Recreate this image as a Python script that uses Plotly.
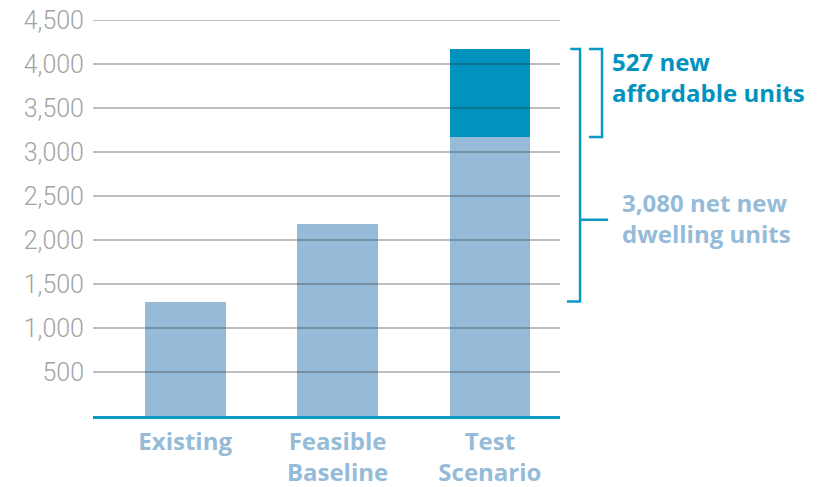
import plotly.graph_objects as go

# Dwelling units by scenario
categories = ["Existing", "Feasible<br>Baseline", "Test<br>Scenario"]
market_units = [1300, 2180, 3170]
affordable_units = [0, 0, 1000]
y_ticks = [500, 1000, 1500, 2000, 2500, 3000, 3500, 4000, 4500]
y_tick_labels = ["500", "1,000", "1,500", "2,000", "2,500", "3,000", "3,500", "4,000", "4,500"]

LIGHT = "#95bbd8"
DARK = "#0093bf"
AXIS = "#0a98c4"
GRID = "rgba(50,50,50,0.42)"
TICK_GRAY = "#a3a3a3"
BOLD_FONT = "Open Sans"

fig = go.Figure()
fig.add_trace(go.Bar(x=categories, y=market_units, marker_color=LIGHT,
                     marker_line_width=0, width=0.53, hoverinfo="skip"))
fig.add_trace(go.Bar(x=categories, y=affordable_units, marker_color=DARK,
                     marker_line_width=0, width=0.53, hoverinfo="skip"))

# grid lines drawn on top of the bars
for v in y_ticks:
    fig.add_shape(type="line", xref="paper", yref="y", x0=0, x1=1, y0=v, y1=v,
                  line=dict(color=GRID, width=1.5), layer="above")

existing = market_units[0]
base = market_units[2]
total = market_units[2] + affordable_units[2]

# small bracket: affordable segment
bx_in = 1.0900
fig.add_shape(type="path", xref="paper", yref="y", layer="above",
              path=f"M {bx_in-0.028},{total} L {bx_in},{total} L {bx_in},{base} L {bx_in-0.028},{base}",
              line=dict(color=AXIS, width=2.5))
# large bracket: net new units
bx_out = 1.0430
mid = 2230
fig.add_shape(type="path", xref="paper", yref="y", layer="above",
              path=f"M {bx_out-0.021},{total} L {bx_out},{total} L {bx_out},{existing} L {bx_out-0.028},{existing}",
              line=dict(color=AXIS, width=2.5))
fig.add_shape(type="line", xref="paper", yref="y", layer="above",
              x0=bx_out, x1=bx_out + 0.06, y0=mid, y1=mid,
              line=dict(color=AXIS, width=2.5))

fig.add_annotation(xref="paper", yref="y", x=1.107, y=(total + base) / 2 + 180,
                   xanchor="left", yanchor="middle", align="left", showarrow=False,
                   text="<b>527 new<br>affordable units</b>",
                   font=dict(family=BOLD_FONT, size=24, color=DARK))
fig.add_annotation(xref="paper", yref="y", x=1.128, y=mid + 20,
                   xanchor="left", yanchor="middle", align="left", showarrow=False,
                   text="<b>3,080 net new<br>dwelling units</b>",
                   font=dict(family=BOLD_FONT, size=24, color=LIGHT))

fig.update_layout(
    width=820, height=487,
    margin=dict(l=93, r=260, t=20, b=71),
    paper_bgcolor="white", plot_bgcolor="white",
    barmode="stack", showlegend=False,
    xaxis=dict(range=[-0.605, 2.46], showgrid=False, zeroline=False,
               showline=True, linecolor=AXIS, linewidth=2.5, automargin=False,
               ticks="", ticklabelstandoff=2,
               tickfont=dict(family=BOLD_FONT, size=24, color=LIGHT, weight="bold")),
    yaxis=dict(range=[0, 4500], showgrid=False, zeroline=False, showline=False,
               tickvals=y_ticks, ticktext=y_tick_labels, ticks="", automargin=False,
               ticklabelstandoff=8,
               tickfont=dict(family="Roboto", size=25, color=TICK_GRAY, weight=300)),
)

fig.write_html("out.html")
